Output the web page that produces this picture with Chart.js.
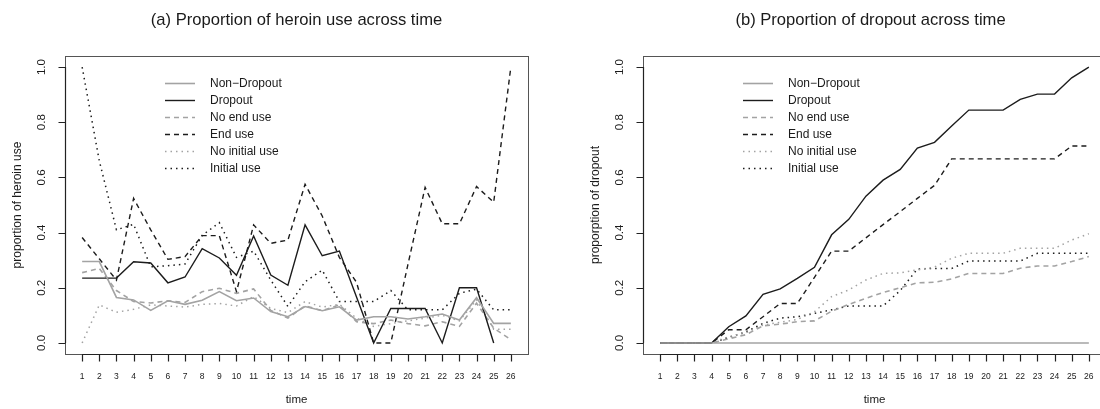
<!DOCTYPE html>
<html>
<head>
<meta charset="utf-8">
<script src="https://cdn.jsdelivr.net/npm/chart.js@4"></script>
<style>
  html, body { margin: 0; padding: 0; background: #fff; overflow: hidden; }
  #wrap { position: relative; width: 1100px; height: 409px; overflow: hidden; }
  canvas { position: absolute; top: 0; }
</style>
</head>
<body>
<div id="wrap">
  <canvas id="heroin" width="550" height="409" style="left:0"></canvas>
  <canvas id="dropout" width="560" height="409" style="left:550px"></canvas>
</div>
<script>
// time points and y ticks
var timeLabels = [1,2,3,4,5,6,7,8,9,10,11,12,13,14,15,16,17,18,19,20,21,22,23,24,25,26];
var yTicks = [0, 0.2, 0.4, 0.6, 0.8, 1.0];
var seriesNames = ['Non\u2212Dropout', 'Dropout', 'No end use', 'End use', 'No initial use', 'Initial use'];

// (a) proportion of heroin use
var heroinNonDropout = [0.295,0.295,0.165,0.156,0.118,0.153,0.14,0.155,0.186,0.153,0.163,0.114,0.095,0.132,0.117,0.131,0.083,0.095,0.095,0.087,0.095,0.105,0.083,0.164,0.071,0.071];
var heroinDropout = [0.235,0.235,0.235,0.294,0.29,0.218,0.239,0.342,0.308,0.245,0.388,0.246,0.209,0.428,0.316,0.333,0.167,0,0.125,0.125,0.125,0,0.2,0.2,0,null];
var heroinNoEndUse = [0.255,0.27,0.19,0.15,0.145,0.153,0.147,0.186,0.198,0.18,0.196,0.118,0.09,0.135,0.117,0.138,0.077,0.07,0.083,0.07,0.062,0.077,0.06,0.144,0.054,0.012];
var heroinEndUse = [0.382,0.305,0.228,0.524,0.41,0.303,0.313,0.389,0.389,0.186,0.428,0.361,0.373,0.575,0.46,0.31,0.22,0,0,0.285,0.564,0.432,0.432,0.567,0.51,1.0];
var heroinNoInitialUse = [0,0.138,0.111,0.122,0.138,0.134,0.13,0.14,0.143,0.134,0.168,0.125,0.11,0.15,0.13,0.14,0.09,0.06,0.07,0.08,0.09,0.1,0.08,0.156,0.05,0.05];
var heroinInitialUse = [1.0,0.66,0.41,0.43,0.276,0.28,0.286,0.39,0.436,0.31,0.333,0.228,0.132,0.222,0.264,0.15,0.15,0.15,0.19,0.12,0.12,0.12,0.18,0.195,0.12,0.12];

// (b) proportion of dropout
var dropNonDropout = [0,0,0,0,0,0,0,0,0,0,0,0,0,0,0,0,0,0,0,0,0,0,0,0,0,0];
var dropDropout = [0,0,0,0,0.059,0.098,0.176,0.196,0.234,0.274,0.392,0.448,0.532,0.59,0.629,0.706,0.727,0.786,0.844,0.844,0.844,0.883,0.902,0.902,0.961,1.0];
var dropNoEndUse = [0,0,0,0,0.015,0.03,0.062,0.068,0.077,0.08,0.115,0.14,0.162,0.183,0.2,0.218,0.22,0.232,0.252,0.252,0.252,0.271,0.279,0.279,0.295,0.313];
var dropEndUse = [0,0,0,0,0.048,0.048,0.095,0.143,0.143,0.238,0.333,0.333,0.381,0.429,0.476,0.524,0.571,0.667,0.667,0.667,0.667,0.667,0.667,0.667,0.714,0.714];
var dropNoInitialUse = [0,0,0,0,0.023,0.037,0.065,0.075,0.085,0.113,0.168,0.192,0.228,0.252,0.254,0.265,0.275,0.307,0.325,0.325,0.325,0.343,0.343,0.343,0.373,0.396];
var dropInitialUse = [0,0,0,0,0.02,0.04,0.071,0.09,0.095,0.107,0.12,0.134,0.134,0.134,0.19,0.268,0.27,0.27,0.297,0.297,0.297,0.297,0.325,0.325,0.325,0.325];

var GRAY = '#a3a3a3', BLACK = '#1c1c1c';
var FONT = "'Liberation Sans', Arial, Helvetica, sans-serif";
var styles = [
  { color: GRAY,  width: 1.6, dash: [] },
  { color: BLACK, width: 1.4, dash: [] },
  { color: GRAY,  width: 1.6, dash: [5, 4] },
  { color: BLACK, width: 1.4, dash: [5, 4] },
  { color: GRAY,  width: 1.5, dash: [1.5, 4] },
  { color: BLACK, width: 1.5, dash: [1.5, 4] }
];

function toPoints(vals) {
  return timeLabels.map(function(t, i) { return { x: t, y: vals[i] }; });
}

// draws the R-like frame, axes, legend and titles
var rFrame = {
  id: 'rFrame',
  afterDraw: function(chart, args, opts) {
    var ctx = chart.ctx, a = chart.chartArea;
    var xs = chart.scales.x, ys = chart.scales.y;
    ctx.save();
    // box
    ctx.strokeStyle = '#555';
    ctx.lineWidth = 1;
    ctx.strokeRect(Math.round(a.left) + 0.5, Math.round(a.top) + 0.5, Math.round(a.right - a.left), Math.round(a.bottom - a.top));
    ctx.strokeStyle = '#222';
    ctx.lineWidth = 1.2;
    // x axis ticks
    ctx.beginPath();
    var bx = Math.round(a.bottom) + 0.5;
    ctx.moveTo(xs.getPixelForValue(timeLabels[0]), bx);
    ctx.lineTo(xs.getPixelForValue(timeLabels[timeLabels.length - 1]), bx);
    timeLabels.forEach(function(t) {
      var px = Math.round(xs.getPixelForValue(t)) + 0.5;
      ctx.moveTo(px, bx);
      ctx.lineTo(px, bx + 7);
    });
    // y axis ticks
    var lx = Math.round(a.left) + 0.5;
    ctx.moveTo(lx, ys.getPixelForValue(yTicks[0]));
    ctx.lineTo(lx, ys.getPixelForValue(yTicks[yTicks.length - 1]));
    yTicks.forEach(function(v) {
      var py = Math.round(ys.getPixelForValue(v)) + 0.5;
      ctx.moveTo(lx, py);
      ctx.lineTo(lx - 7, py);
    });
    ctx.stroke();

    ctx.fillStyle = '#1a1a1a';
    ctx.textAlign = 'center';
    ctx.textBaseline = 'middle';
    ctx.font = '8.5px ' + FONT;
    timeLabels.forEach(function(t) {
      ctx.fillText(String(t), xs.getPixelForValue(t), a.bottom + 23);
    });
    ctx.font = '11.5px ' + FONT;
    yTicks.forEach(function(v) {
      ctx.save();
      ctx.translate(a.left - 23, ys.getPixelForValue(v));
      ctx.rotate(-Math.PI / 2);
      ctx.fillText(v.toFixed(1), 0, 0);
      ctx.restore();
    });
    // axis titles
    var cx = (a.left + a.right) / 2;
    ctx.font = '11.5px ' + FONT;
    ctx.fillText('time', cx, 400);
    ctx.save();
    ctx.translate(a.left - 47, (a.top + a.bottom) / 2);
    ctx.rotate(-Math.PI / 2);
    ctx.font = '12px ' + FONT;
    ctx.fillText(opts.yTitle, 0, 0);
    ctx.restore();
    // main title
    ctx.font = '16.6px ' + FONT;
    ctx.fillText(opts.title, cx + opts.titleShift, 20);

    // legend
    ctx.font = '12px ' + FONT;
    ctx.textAlign = 'left';
    chart.data.datasets.forEach(function(ds, i) {
      var y = a.top + 27 + i * 17;
      var x0 = a.left + 100;
      ctx.strokeStyle = ds.borderColor;
      ctx.lineWidth = ds.borderWidth;
      ctx.setLineDash(ds.borderDash);
      ctx.beginPath();
      ctx.moveTo(x0, y + 0.5);
      ctx.lineTo(x0 + 30, y + 0.5);
      ctx.stroke();
      ctx.setLineDash([]);
      ctx.fillStyle = '#1a1a1a';
      ctx.fillText(ds.label, x0 + 45, y + 1);
    });
    ctx.restore();
  }
};

function makeChart(id, title, yTitle, series, padLeft, padRight, titleShift) {
  var datasets = series.map(function(vals, i) {
    return {
      label: seriesNames[i],
      data: toPoints(vals),
      borderColor: styles[i].color,
      borderWidth: styles[i].width,
      borderDash: styles[i].dash,
      pointRadius: 0,
      tension: 0,
      fill: false,
      spanGaps: false
    };
  });
  return new Chart(document.getElementById(id).getContext('2d'), {
    type: 'line',
    data: { datasets: datasets },
    options: {
      responsive: false,
      animation: false,
      layout: { padding: { left: padLeft, right: padRight, top: 56, bottom: 55 } },
      scales: {
        x: { type: 'linear', min: 0, max: 27, display: false },
        y: { type: 'linear', min: -0.04, max: 1.04, display: false }
      },
      plugins: {
        legend: { display: false },
        tooltip: { enabled: false },
        rFrame: { title: title, yTitle: yTitle, titleShift: titleShift }
      }
    },
    plugins: [rFrame]
  });
}

makeChart('heroin', '(a) Proportion of heroin use across time', 'proportion of heroin use',
  [heroinNonDropout, heroinDropout, heroinNoEndUse, heroinEndUse, heroinNoInitialUse, heroinInitialUse], 65, 22, 0);
makeChart('dropout', '(b) Proportion of dropout across time', 'proporption of dropout',
  [dropNonDropout, dropDropout, dropNoEndUse, dropEndUse, dropNoInitialUse, dropInitialUse], 93, 4, -4);
</script>
</body>
</html>
